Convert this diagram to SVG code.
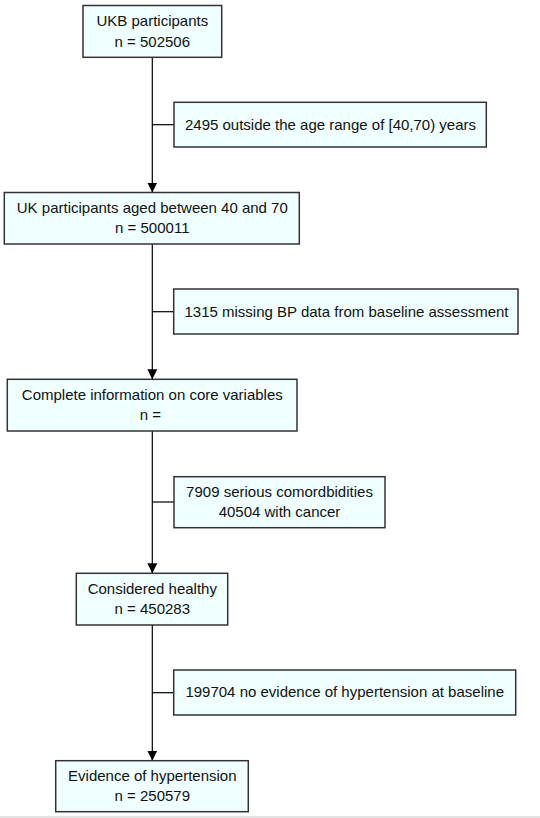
<svg xmlns="http://www.w3.org/2000/svg" width="540" height="818" viewBox="0 0 540 818">
<style>
.box{fill:#F0FFFF;stroke:#333333;stroke-width:1.5}
.t{font-family:"Liberation Sans",Arial,sans-serif;font-size:15px;fill:#111111;text-anchor:middle}
.c{stroke:#000000;stroke-width:1.2;fill:none}
</style>
<defs>
<marker id="ah" viewBox="0 0 10 13" refX="10" refY="6.5" markerWidth="10" markerHeight="13" markerUnits="userSpaceOnUse" orient="auto">
<path d="M0,6.5 L0,1.5 L10,6.5 L0,11.5 Z" fill="#000000"/>
</marker>
</defs>
<rect x="0" y="816" width="540" height="2" fill="#E3E3E3"/>
<g id="connectors">
<line class="c" x1="152.3" y1="57.5" x2="152.3" y2="192.5" marker-end="url(#ah)"/>
<line class="c" x1="152.3" y1="124.7" x2="174" y2="124.7"/>
<line class="c" x1="152.3" y1="244" x2="152.3" y2="379.3" marker-end="url(#ah)"/>
<line class="c" x1="152.3" y1="311.7" x2="174" y2="311.7"/>
<line class="c" x1="152.3" y1="431" x2="152.3" y2="573.3" marker-end="url(#ah)"/>
<line class="c" x1="152.3" y1="502" x2="174" y2="502"/>
<line class="c" x1="152.3" y1="625" x2="152.3" y2="760.7" marker-end="url(#ah)"/>
<line class="c" x1="152.3" y1="692.7" x2="174" y2="692.7"/>
</g>
<g id="n1">
<rect class="box" x="83" y="5.5" width="138.7" height="51.8"/>
<text class="t" x="152.3" y="26">UKB participants</text>
<text class="t" x="152.3" y="46.7">n = 502506</text>
</g>
<g id="e1">
<rect class="box" x="174" y="102.3" width="312.3" height="44.7"/>
<text class="t" x="330.5" y="130">2495 outside the age range of [40,70) years</text>
</g>
<g id="n2">
<rect class="box" x="4.3" y="192.5" width="295" height="51.5"/>
<text class="t" x="152.3" y="213.3">UK participants aged between 40 and 70</text>
<text class="t" x="152.3" y="233.3">n = 500011</text>
</g>
<g id="e2">
<rect class="box" x="173.7" y="289" width="344.3" height="45"/>
<text class="t" x="346.5" y="317.3">1315 missing BP data from baseline assessment</text>
</g>
<g id="n3">
<rect class="box" x="7.3" y="379.3" width="289.7" height="51.7"/>
<text class="t" x="152.3" y="400">Complete information on core variables</text>
<text class="t" x="150.5" y="420">n =</text>
</g>
<g id="e3">
<rect class="box" x="174" y="476.7" width="211" height="51"/>
<text class="t" x="279.5" y="496.7">7909 serious comordbidities</text>
<text class="t" x="279.5" y="517.3">40504 with cancer</text>
</g>
<g id="n4">
<rect class="box" x="76.3" y="573.3" width="151.4" height="51.7"/>
<text class="t" x="152.3" y="594">Considered healthy</text>
<text class="t" x="152.3" y="614">n = 450283</text>
</g>
<g id="e4">
<rect class="box" x="173.7" y="670" width="342" height="45"/>
<text class="t" x="344.7" y="697.3">199704 no evidence of hypertension at baseline</text>
</g>
<g id="n5">
<rect class="box" x="55.7" y="760.7" width="192.6" height="51"/>
<text class="t" x="152.3" y="780.7">Evidence of hypertension</text>
<text class="t" x="152.3" y="800.7">n = 250579</text>
</g>
</svg>
